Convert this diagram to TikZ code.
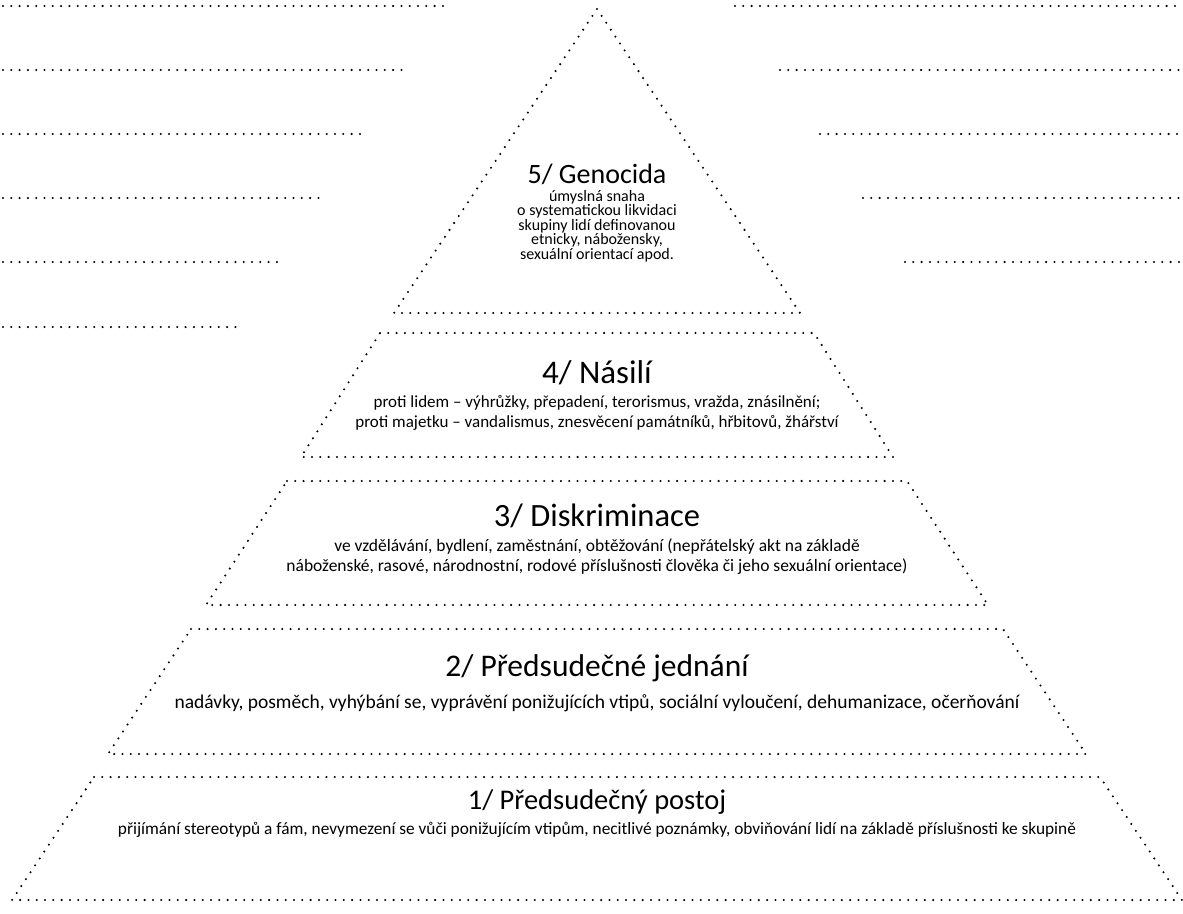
\documentclass[tikz,border=0pt]{standalone}
\usepackage{fontspec}
\setmainfont{Carlito}
\tikzset{
  tecky/.style={line width=2.3pt, line cap=round, dash pattern=on 0pt off 8.3pt},
  nadpis/.style={font=\fontsize{#1}{#1}\selectfont, inner sep=0pt},
  nadpis/.default=28,
  popis/.style={font=\fontsize{#1}{20}\selectfont, align=center, inner sep=0pt},
  popis/.default=16,
}
\begin{document}
\begin{tikzpicture}[x=1pt, y=-1pt]
    \useasboundingbox (0,0) rectangle (1183,913);
    %------------Linky vlevo----------
    \foreach \y/\x in {6/450,70/404,134/363,198/324,262/280,327/238} {
        \draw[tecky] (3,\y) -- (\x,\y);
    }
    %------------Linky vpravo---------
    \foreach \y/\x in {6/735,70/780,134/820,198/863,262/905} {
        \draw[tecky] (\x,\y) -- (1179,\y);
    }
    %------------Pyramida-------------
    \draw[tecky] (597,9) -- (800,313) -- (394,313) -- cycle;
    \foreach \a/\b/\p/\q in {333/457/217/296, 481/605/310/391, 629/754/406/489, 777/900/503/585} {
        \draw[tecky] ({597-\p},\a) -- ({597+\p},\a) -- ({597+\q},\b) -- ({597-\q},\b) -- cycle;
    }
    %------------Texty----------------
    \node[nadpis] (g5) at (597,174) {5/ Genocida};
    \node[popis, font=\fontsize{16}{14.6}\selectfont] (p5) at (597,226)
        {úmyslná snaha\\o systematickou likvidaci\\skupiny lidí definovanou\\etnicky, nábožensky,\\sexuální orientací apod.};
    \node[nadpis=33] (g4) at (597,373) {4/ Násilí};
    \node[popis=17] (p4) at (597,413)
        {proti lidem – výhrůžky, přepadení, terorismus, vražda, znásilnění;\\proti majetku – vandalismus, znesvěcení památníků, hřbitovů, žhářství};
    \node[nadpis=32.5] (g3) at (597,516) {3/ Diskriminace};
    \node[popis=17.5] (p3) at (597,557)
        {ve vzdělávání, bydlení, zaměstnání, obtěžování (nepřátelský akt na základě\\náboženské, rasové, národnostní, rodové příslušnosti člověka či jeho sexuální orientace)};
    \node[nadpis=31.5] (g2) at (597,668) {2/ Předsudečné jednání};
    \node[popis=19.5] (p2) at (597,703)
        {nadávky, posměch, vyhýbání se, vyprávění ponižujících vtipů, sociální vyloučení, dehumanizace, očerňování};
    \node[nadpis=28.5] (g1) at (597,802) {1/ Předsudečný postoj};
    \node[popis=17.3] (p1) at (597,830)
        {přijímání stereotypů a fám, nevymezení se vůči ponižujícím vtipům, necitlivé poznámky, obviňování lidí na základě příslušnosti ke skupině};
\end{tikzpicture}
\end{document}
